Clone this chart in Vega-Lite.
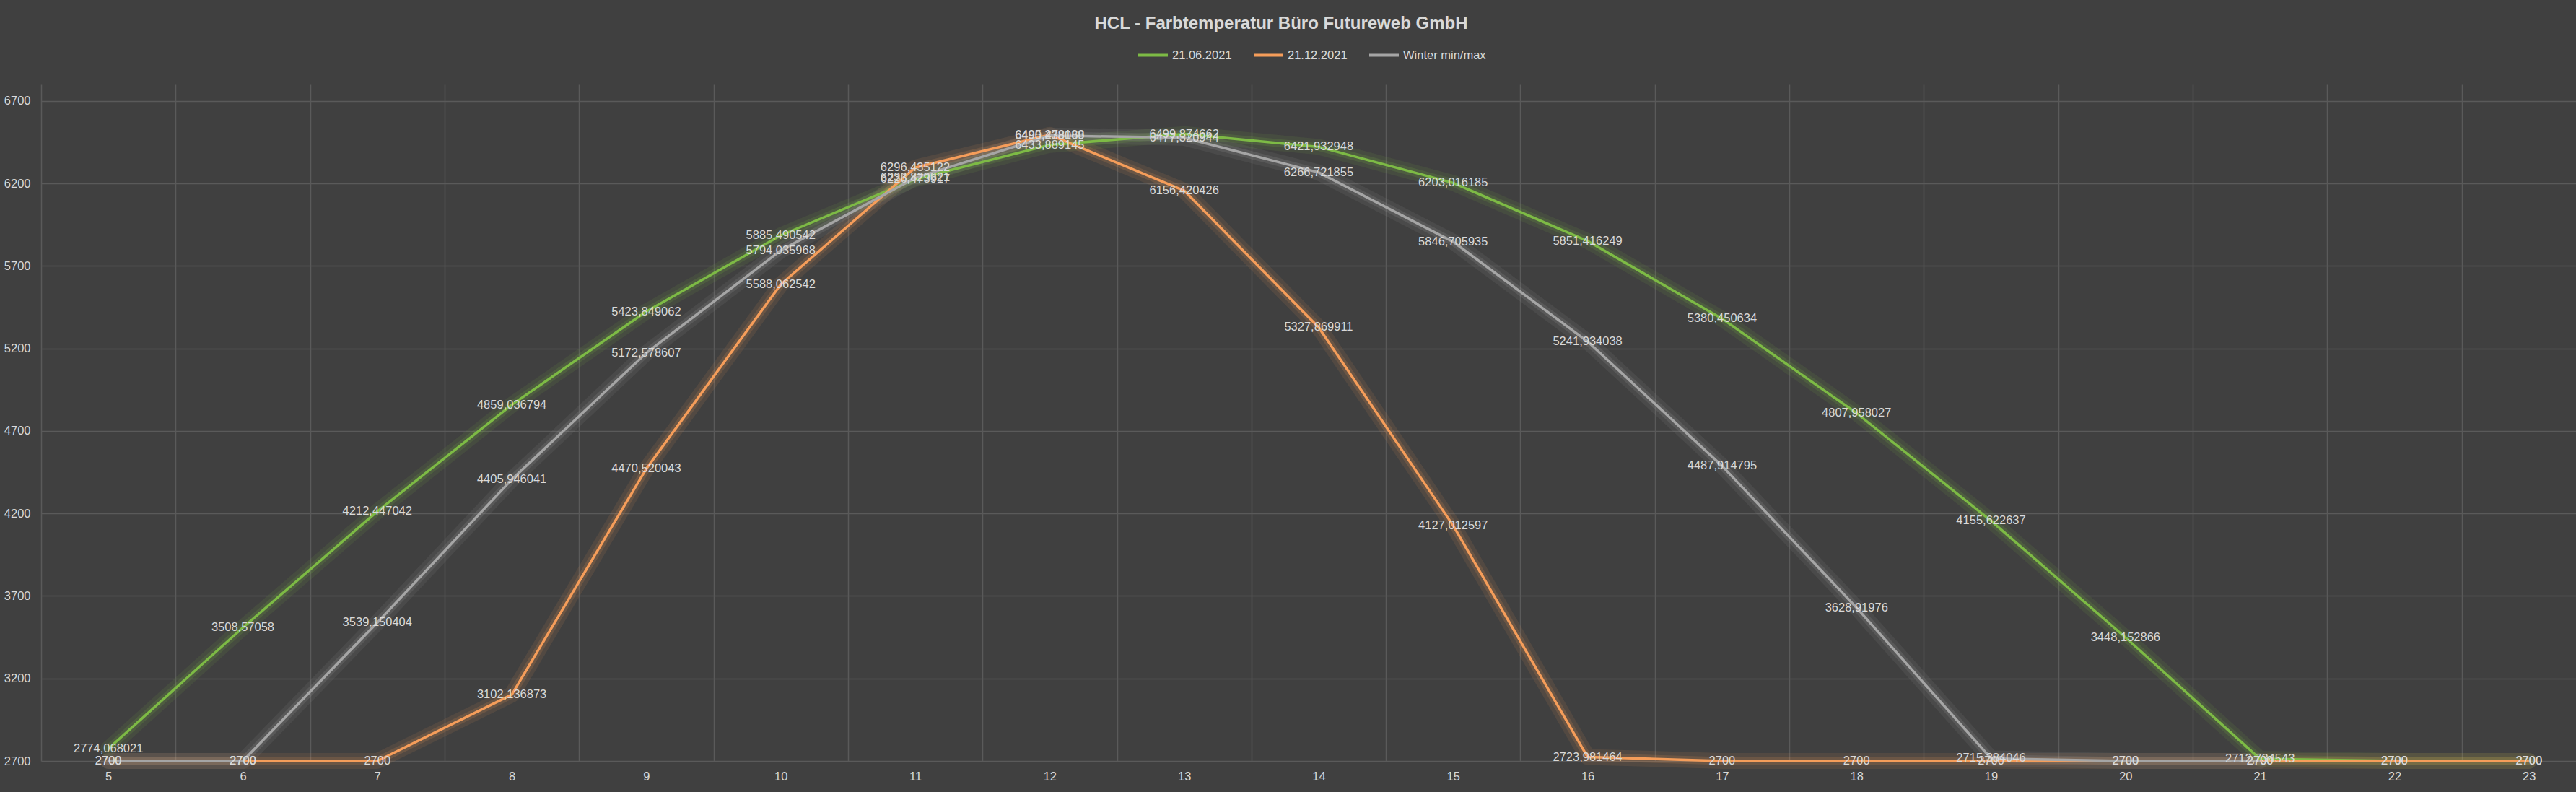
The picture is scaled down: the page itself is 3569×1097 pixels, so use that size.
{
  "$schema": "https://vega.github.io/schema/vega-lite/v6.json",
  "width": 3512,
  "height": 937,
  "autosize": {"type": "none"},
  "padding": {"left": 57, "top": 117, "right": 0, "bottom": 43},
  "background": "#404040",
  "title": {
    "text": "HCL - Farbtemperatur Büro Futureweb GmbH",
    "font": "Liberation Sans",
    "fontSize": 24,
    "fontWeight": "bold",
    "color": "#D9D9D9",
    "anchor": "middle",
    "frame": "group",
    "baseline": "alphabetic",
    "offset": -10,
    "dx": -38
  },
  "config": {
    "view": {"stroke": null},
    "locale": {"number": {"decimal": ",", "thousands": ".", "grouping": [3], "currency": ["", " €"]}}
  },
  "data": {
    "values": [
      {"Serie": "21.06.2021", "Stunde": 5, "Wert": 2774.068021},
      {"Serie": "21.06.2021", "Stunde": 6, "Wert": 3508.57058},
      {"Serie": "21.06.2021", "Stunde": 7, "Wert": 4212.447042},
      {"Serie": "21.06.2021", "Stunde": 8, "Wert": 4859.036794},
      {"Serie": "21.06.2021", "Stunde": 9, "Wert": 5423.849062},
      {"Serie": "21.06.2021", "Stunde": 10, "Wert": 5885.490542},
      {"Serie": "21.06.2021", "Stunde": 11, "Wert": 6226.473917},
      {"Serie": "21.06.2021", "Stunde": 12, "Wert": 6433.889145},
      {"Serie": "21.06.2021", "Stunde": 13, "Wert": 6499.874662},
      {"Serie": "21.06.2021", "Stunde": 14, "Wert": 6421.932948},
      {"Serie": "21.06.2021", "Stunde": 15, "Wert": 6203.016185},
      {"Serie": "21.06.2021", "Stunde": 16, "Wert": 5851.416249},
      {"Serie": "21.06.2021", "Stunde": 17, "Wert": 5380.450634},
      {"Serie": "21.06.2021", "Stunde": 18, "Wert": 4807.958027},
      {"Serie": "21.06.2021", "Stunde": 19, "Wert": 4155.622637},
      {"Serie": "21.06.2021", "Stunde": 20, "Wert": 3448.152866},
      {"Serie": "21.06.2021", "Stunde": 21, "Wert": 2712.734543},
      {"Serie": "21.06.2021", "Stunde": 22, "Wert": 2700},
      {"Serie": "21.06.2021", "Stunde": 23, "Wert": 2700},
      {"Serie": "21.12.2021", "Stunde": 5, "Wert": 2700},
      {"Serie": "21.12.2021", "Stunde": 6, "Wert": 2700},
      {"Serie": "21.12.2021", "Stunde": 7, "Wert": 2700},
      {"Serie": "21.12.2021", "Stunde": 8, "Wert": 3102.136873},
      {"Serie": "21.12.2021", "Stunde": 9, "Wert": 4470.520043},
      {"Serie": "21.12.2021", "Stunde": 10, "Wert": 5588.062542},
      {"Serie": "21.12.2021", "Stunde": 11, "Wert": 6296.435122},
      {"Serie": "21.12.2021", "Stunde": 12, "Wert": 6495.278188},
      {"Serie": "21.12.2021", "Stunde": 13, "Wert": 6156.420426},
      {"Serie": "21.12.2021", "Stunde": 14, "Wert": 5327.869911},
      {"Serie": "21.12.2021", "Stunde": 15, "Wert": 4127.012597},
      {"Serie": "21.12.2021", "Stunde": 16, "Wert": 2723.981464},
      {"Serie": "21.12.2021", "Stunde": 17, "Wert": 2700},
      {"Serie": "21.12.2021", "Stunde": 18, "Wert": 2700},
      {"Serie": "21.12.2021", "Stunde": 19, "Wert": 2700},
      {"Serie": "21.12.2021", "Stunde": 20, "Wert": 2700},
      {"Serie": "21.12.2021", "Stunde": 21, "Wert": 2700},
      {"Serie": "21.12.2021", "Stunde": 22, "Wert": 2700},
      {"Serie": "21.12.2021", "Stunde": 23, "Wert": 2700},
      {"Serie": "Winter min/max", "Stunde": 5, "Wert": 2700},
      {"Serie": "Winter min/max", "Stunde": 6, "Wert": 2700},
      {"Serie": "Winter min/max", "Stunde": 7, "Wert": 3539.150404},
      {"Serie": "Winter min/max", "Stunde": 8, "Wert": 4405.946041},
      {"Serie": "Winter min/max", "Stunde": 9, "Wert": 5172.578607},
      {"Serie": "Winter min/max", "Stunde": 10, "Wert": 5794.035968},
      {"Serie": "Winter min/max", "Stunde": 11, "Wert": 6233.829821},
      {"Serie": "Winter min/max", "Stunde": 12, "Wert": 6490.438069},
      {"Serie": "Winter min/max", "Stunde": 13, "Wert": 6477.320944},
      {"Serie": "Winter min/max", "Stunde": 14, "Wert": 6266.721855},
      {"Serie": "Winter min/max", "Stunde": 15, "Wert": 5846.705935},
      {"Serie": "Winter min/max", "Stunde": 16, "Wert": 5241.934038},
      {"Serie": "Winter min/max", "Stunde": 17, "Wert": 4487.914795},
      {"Serie": "Winter min/max", "Stunde": 18, "Wert": 3628.91976},
      {"Serie": "Winter min/max", "Stunde": 19, "Wert": 2715.384046},
      {"Serie": "Winter min/max", "Stunde": 20, "Wert": 2700},
      {"Serie": "Winter min/max", "Stunde": 21, "Wert": 2700}
    ]
  },
  "encoding": {
    "y": {
      "field": "Wert",
      "type": "quantitative",
      "scale": {"domain": [2700, 6800], "nice": false, "zero": false},
      "axis": {
        "values": [2700, 3200, 3700, 4200, 4700, 5200, 5700, 6200, 6700],
        "format": "d",
        "grid": true,
        "gridColor": "#5A5A5A",
        "gridWidth": 1.5,
        "domain": false,
        "ticks": false,
        "title": null,
        "labelColor": "#D9D9D9",
        "labelFont": "Liberation Sans",
        "labelFontSize": 16.5,
        "labelPadding": 15
      }
    },
    "color": {
      "field": "Serie",
      "type": "nominal",
      "scale": {"domain": ["21.06.2021", "21.12.2021", "Winter min/max"], "range": ["#7DBA45", "#F59D5A", "#A5A5A5"]},
      "legend": {
        "orient": "none",
        "legendX": 1518,
        "legendY": -63,
        "direction": "horizontal",
        "title": null,
        "symbolType": "stroke",
        "symbolSize": 1681,
        "symbolStrokeWidth": 4,
        "symbolOpacity": 1,
        "labelColor": "#D9D9D9",
        "labelFont": "Liberation Sans",
        "labelFontSize": 16.5,
        "labelOffset": 4,
        "columnPadding": 22
      }
    }
  },
  "layer": [
    {
      "mark": {"type": "line", "strokeWidth": 22, "strokeOpacity": 0.1, "strokeCap": "round", "strokeJoin": "round"},
      "encoding": {
        "x": {
          "field": "Stunde",
          "type": "quantitative",
          "scale": {"domain": [4.5, 23.35], "nice": false, "zero": false},
          "axis": {
            "values": [4.5, 5.5, 6.5, 7.5, 8.5, 9.5, 10.5, 11.5, 12.5, 13.5, 14.5, 15.5, 16.5, 17.5, 18.5, 19.5, 20.5, 21.5, 22.5],
            "orient": "bottom",
            "labels": false,
            "ticks": false,
            "domain": false,
            "grid": true,
            "gridColor": "#5A5A5A",
            "gridWidth": 1.5,
            "title": null
          }
        }
      }
    },
    {
      "mark": {"type": "line", "strokeWidth": 11, "strokeOpacity": 0.16, "strokeCap": "round", "strokeJoin": "round"},
      "encoding": {
        "x": {"field": "Stunde", "type": "quantitative", "axis": null}
      }
    },
    {
      "mark": {"type": "line", "strokeWidth": 3.5, "strokeJoin": "round"},
      "encoding": {
        "x": {
          "field": "Stunde",
          "type": "quantitative",
          "axis": {
            "values": [5, 6, 7, 8, 9, 10, 11, 12, 13, 14, 15, 16, 17, 18, 19, 20, 21, 22, 23],
            "orient": "bottom",
            "grid": false,
            "ticks": false,
            "domain": false,
            "title": null,
            "labelColor": "#D9D9D9",
            "labelFont": "Liberation Sans",
            "labelFontSize": 16.5,
            "labelPadding": 13
          }
        }
      }
    },
    {
      "mark": {"type": "text", "font": "Liberation Sans", "fontSize": 16.5, "align": "center", "baseline": "middle"},
      "encoding": {
        "x": {"field": "Stunde", "type": "quantitative", "axis": null},
        "color": {"value": "#D9D9D9"},
        "text": {"field": "Wert", "type": "quantitative", "format": ".6~f"}
      }
    }
  ],
  "resolve": {"axis": {"x": "independent"}}
}
